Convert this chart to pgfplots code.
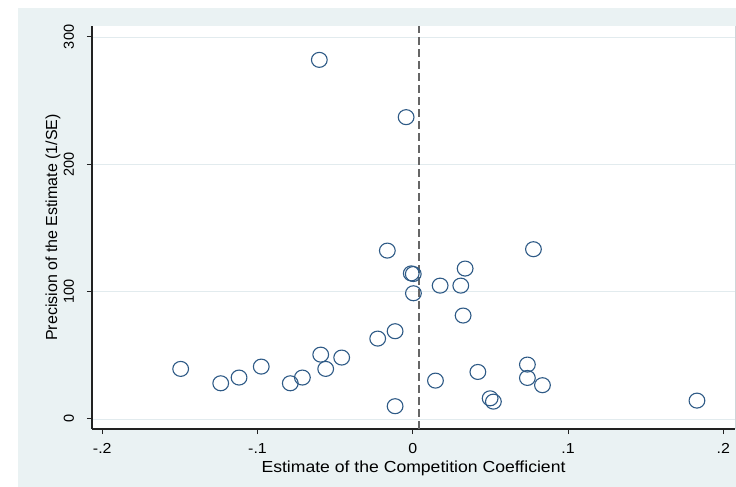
\documentclass[border=0pt]{standalone}
\usepackage{fontspec}
\setmainfont{Liberation Sans}
\newfontfamily\widefont{Liberation Sans}[FakeStretch=1.1]
\usepackage{pgfplots}
\pgfplotsset{compat=1.18}

\definecolor{panel}{HTML}{EAF2F3}
\definecolor{gridc}{HTML}{E2EBEE}
\definecolor{navy}{HTML}{2E5A86}
\definecolor{axisc}{HTML}{222222}

\begin{document}
\begin{tikzpicture}
\useasboundingbox (-92pt,-58pt) rectangle (644pt,429pt);
\fill[white] (-92pt,-58pt) rectangle (644pt,429pt);
\fill[panel] (-74pt,-58pt) rectangle (644pt,421pt);
\begin{axis}[
  at={(0pt,0pt)}, anchor=south west,
  scale only axis, width=643pt, height=403pt,
  xmin=-0.2066, xmax=0.2075, ymin=-7.9, ymax=308.6,
  axis background/.style={fill=white},
  axis x line*=bottom, axis y line*=left,
  axis line style={axisc, line width=1.1pt},
  /pgf/number format/assume math mode=true,
  xtick={-0.2,-0.1,0,0.1,0.2}, xticklabels={-.2,-.1,0,.1,.2},
  ytick={0,100,200,300}, yticklabels={0,100,200,300},
  tick align=outside, major tick length=5pt,
  tick style={axisc, line width=1.1pt},
  ymajorgrids, grid style={gridc, line width=0.8pt},
  tick label style={font=\fontsize{14.5}{16}\selectfont},
  xticklabel style={font=\widefont\fontsize{14.5}{16}\selectfont, anchor=base, inner sep=0pt, yshift=-19pt},
  yticklabel style={xshift=-13pt, rotate=90, anchor=base, inner sep=0pt},
  xlabel={Estimate of the Competition Coefficient},
  ylabel={Precision of the Estimate (1/SE)},
  every axis x label/.style={at={(axis description cs:0.5,-0.1067)}, anchor=base, font=\widefont\fontsize{16}{18}\selectfont},
  every axis y label/.style={at={(axis description cs:-0.0544,0.5)}, rotate=90, anchor=base, font=\fontsize{16}{18}\selectfont},
  clip=false,
]
% faint right edge of the plot region
\draw[gridc!80!gray, line width=0.8pt] (rel axis cs:1,0) -- (rel axis cs:1,1);
% reference line at the pooled estimate
\addplot[color=black!60, line width=1.8pt, dash pattern=on 8pt off 4pt] coordinates {(0.0039,-7.9) (0.0039,308.6)};
% study estimates
\addplot[only marks, mark=o, mark size=7.5pt, mark options={navy, line width=1.1pt, xscale=1.05}] coordinates {
(-0.0602,282.0)
(-0.0043,237.0)
(-0.1495,39.3)
(-0.1237,28.0)
(-0.1119,32.5)
(-0.0976,41.1)
(-0.0789,28.0)
(-0.0711,32.5)
(-0.0593,50.5)
(-0.0561,39.3)
(-0.0458,48.2)
(-0.0164,132.2)
(0.0777,133.3)
(0.0337,118.1)
(-0.0010,114.3)
(0.0003,113.8)
(0.0176,104.7)
(0.0309,104.7)
(0.0004,98.7)
(0.0324,81.2)
(-0.0114,68.9)
(-0.0226,63.1)
(0.0738,42.7)
(0.0419,36.9)
(0.0146,30.1)
(0.0738,32.2)
(0.0835,26.5)
(0.0498,16.2)
(0.0519,13.6)
(-0.0114,10.0)
(0.1830,14.4)
};
\end{axis}
\end{tikzpicture}
\end{document}
